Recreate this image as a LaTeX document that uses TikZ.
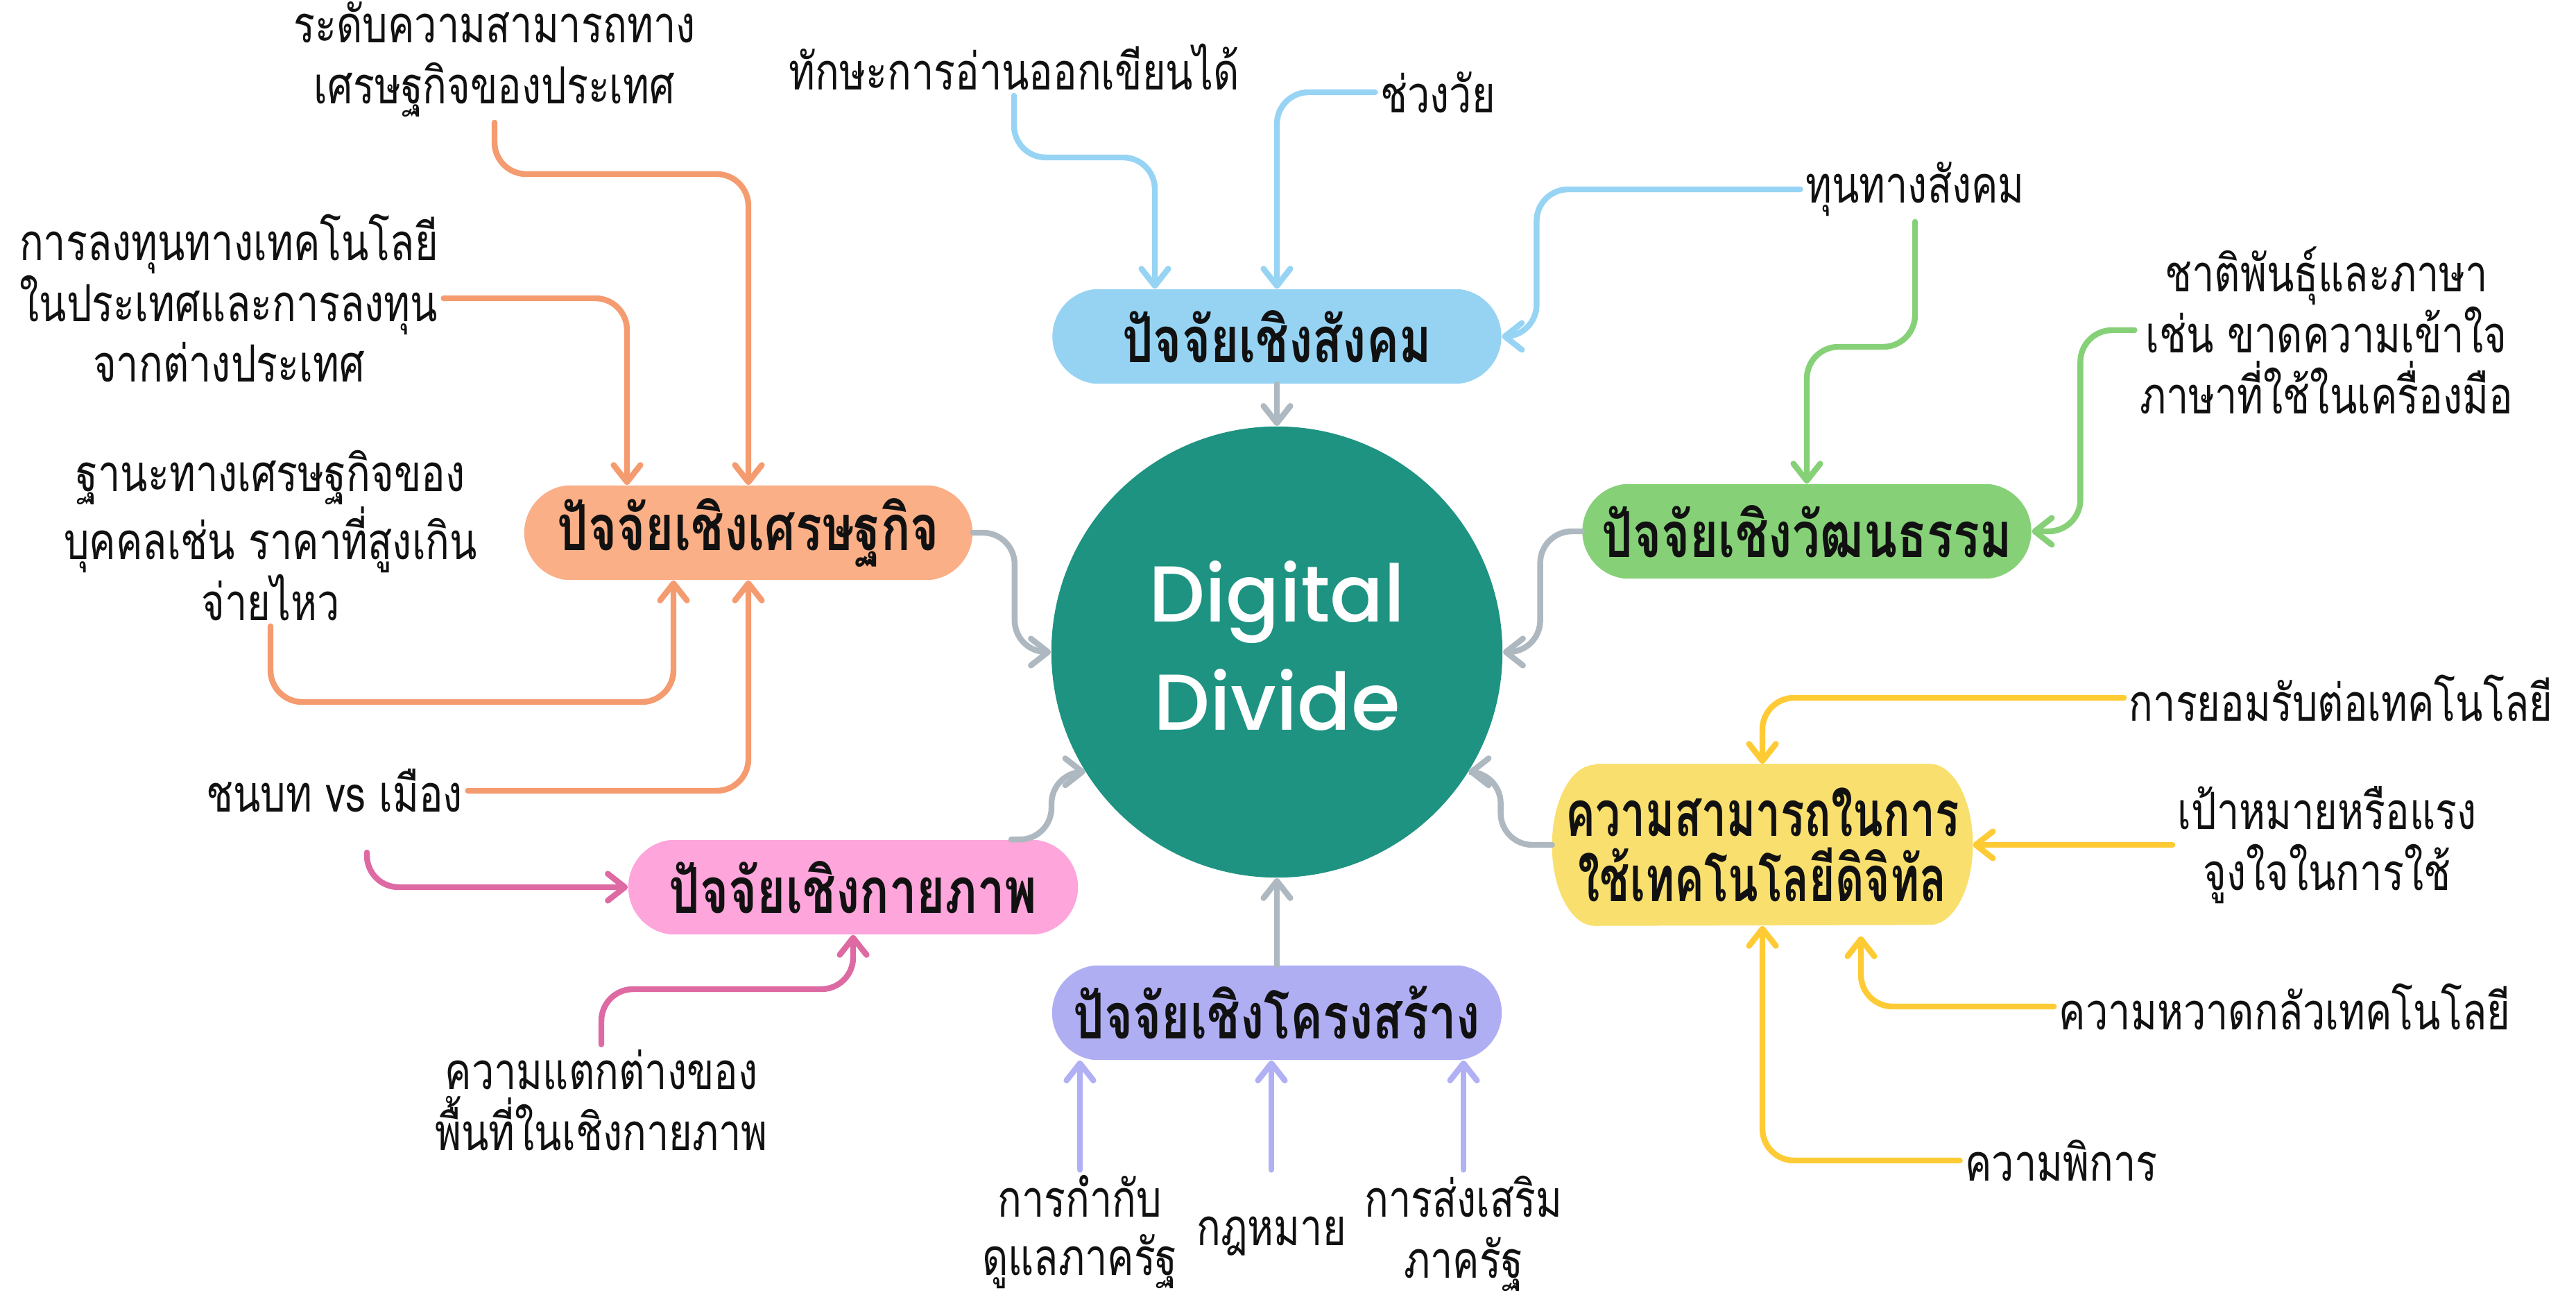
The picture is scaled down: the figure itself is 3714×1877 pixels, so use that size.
\documentclass[tikz,border=0pt]{standalone}
\usepackage{fontspec}
\usetikzlibrary{arrows.meta,shapes.misc,calc,backgrounds}
\newfontfamily\thai[Script=Thai,FakeStretch=0.78]{Loma}
\newfontfamily\thaib[Script=Thai,FakeStretch=0.77]{Loma}
\newfontfamily\thaiy[Script=Thai,FakeStretch=0.70]{Loma}
\newfontfamily\latf{Poppins Medium}
\definecolor{orln}{HTML}{F59B70}
\definecolor{orfill}{HTML}{FAAF87}
\definecolor{blfill}{HTML}{96D3F3}
\definecolor{blln}{HTML}{97D4F4}
\definecolor{grfill}{HTML}{86D178}
\definecolor{grln}{HTML}{86D178}
\definecolor{pkfill}{HTML}{FEA5DB}
\definecolor{pkln}{HTML}{DE6AA3}
\definecolor{pufill}{HTML}{B0AEF3}
\definecolor{puln}{HTML}{B2B0F5}
\definecolor{yefill}{HTML}{F9DF6E}
\definecolor{yeln}{HTML}{FECB34}
\definecolor{gyln}{HTML}{AEB8C0}
\definecolor{ddteal}{HTML}{1E9382}
\definecolor{txt}{HTML}{111111}
\begin{document}
\begin{tikzpicture}[x=0.01cm,y=-0.01cm,
  lab/.style={font=\thai\fontsize{21}{25}\selectfont, align=center, inner sep=2pt, text=txt},
  box/.style={rounded rectangle, rounded rectangle arc length=166, minimum height=1.36cm,
    font=\thaib\bfseries\fontsize{26}{26.7}\selectfont, text=txt, inner sep=0pt, align=center},
  con/.style={line width=2.4pt, rounded corners=13pt, line cap=round,
    -{Straight Barb[length=7pt,width=11pt,line cap=round,round]}},
  ddtext/.style={font=\latf\fontsize{32.5}{40}\selectfont, text=white, anchor=base}]
\useasboundingbox (0,0) rectangle (3714,1877);
% central circle
\node[circle, fill=ddteal, minimum size=6.5cm, inner sep=0pt] (dd) at (1841,940) {};
\node[ddtext] (dg1) at (1841,897) {Digital};
\node[ddtext] (dg2) at (1841,1053) {Divide};
% factor boxes
\node[box, fill=blfill, minimum width=6.47cm] (soc) at (1841,485) {ปัจจัยเชิงสังคม};
\node[box, fill=orfill, minimum width=6.46cm] (eco) at (1079,768) {ปัจจัยเชิงเศรษฐกิจ};
\node[box, fill=grfill, minimum width=6.47cm] (cul) at (2605,766) {ปัจจัยเชิงวัฒนธรรม};
\node[box, fill=pkfill, minimum width=6.48cm] (phy) at (1230,1279) {ปัจจัยเชิงกายภาพ};
\node[box, fill=pufill, minimum width=6.48cm] (str) at (1841,1460) {ปัจจัยเชิงโครงสร้าง};
\node[rectangle, minimum width=6.05cm, minimum height=2.32cm, inner sep=0pt, align=center,
  text=txt, font=\thaiy\bfseries\fontsize{26}{26.7}\selectfont] (abi) at (2541,1218) {ความสามารถในการ\\ใช้เทคโนโลยีดิจิทัล};
\begin{scope}[on background layer]
\fill[yefill] ($(abi.north west)+(62,0)$) -- ($(abi.north east)+(-62,0)$)
  arc[start angle=90,end angle=0,x radius=0.62cm,y radius=1.16cm]
  arc[start angle=0,end angle=-90,x radius=0.62cm,y radius=1.16cm]
  -- ($(abi.south west)+(62,0)$)
  arc[start angle=-90,end angle=-180,x radius=0.62cm,y radius=1.16cm]
  arc[start angle=180,end angle=90,x radius=0.62cm,y radius=1.16cm] -- cycle;
\end{scope}
% labels
\node[lab] (e1) at (713,86) {ระดับความสามารถทาง\\เศรษฐกิจของประเทศ};
\node[lab] (e2) at (330,430) {การลงทุนทางเทคโนโลยี\\ในประเทศและการลงทุน\\จากต่างประเทศ};
\node[lab] (e3) at (390,772) {ฐานะทางเศรษฐกิจของ\\บุคคลเช่น ราคาที่สูงเกิน\\จ่ายไหว};
\node[lab] (e4) at (482,1140) {ชนบท vs เมือง};
\node[lab] (p1) at (867,1586) {ความแตกต่างของ\\พื้นที่ในเชิงกายภาพ};
\node[lab] (s1) at (1462,97) {ทักษะการอ่านออกเขียนได้};
\node[lab] (s2) at (2073,133) {ช่วงวัย};
\node[lab] (s3) at (2761,273) {ทุนทางสังคม};
\node[lab] (c1) at (3354,476) {ชาติพันธุ์และภาษา\\เช่น ขาดความเข้าใจ\\ภาษาที่ใช้ในเครื่องมือ};
\node[lab, font=\thai\fontsize{21}{24}\selectfont] (st1) at (1557,1776) {การกำกับ\\ดูแลภาครัฐ};
\node[lab] (st2) at (1833,1782) {กฎหมาย};
\node[lab] (st3) at (2110,1778) {การส่งเสริม\\ภาครัฐ};
\node[lab] (y1) at (3375,1006) {การยอมรับต่อเทคโนโลยี};
\node[lab] (y2) at (3355,1218) {เป้าหมายหรือแรง\\จูงใจในการใช้};
\node[lab] (y3) at (3294,1451) {ความหวาดกลัวเทคโนโลยี};
\node[lab] (y4) at (2972,1673) {ความพิการ};
\coordinate (pstart) at (529,1229);
% economic
\draw[con,orln] (e1.south) |- (eco.north |- 0,251) -- (eco.north);
\draw[con,orln] (e2.east) -| ($(eco.north)+(-175,0)$);
\draw[con,orln] (e3.south) -- (e3.south |- 0,1012) -| ($(eco.south)+(-108,0)$);
\draw[con,orln] (e4.east) -| (eco.south);
% physical
\draw[con,pkln] (pstart) |- (phy.west);
\draw[con,pkln] (p1.north) -- (p1.north |- 0,1426) -| (phy.south);
% social
\draw[con,blln] (s1.south) -- (s1.south |- 0,227) -| ($(soc.north)+(-176,0)$);
\draw[con,blln] (s2.west) -| (soc.north);
\draw[con,blln] (s3.west) -| ($(soc.east)+(50,0)$) -- (soc.east);
% cultural
\draw[con,grln] (s3.south) -- (s3.south |- 0,500) -| (cul.north);
\draw[con,grln] (c1.west) -| ($(cul.east)+(70,0)$) -- (cul.east);
% structural
\draw[con,puln] (st1.north) -- (st1.north |- str.south);
\draw[con,puln] (st2.north |- st1.north) -- (st2.north |- str.south);
\draw[con,puln] (st3.north |- st1.north) -- (st3.north |- str.south);
% ability
\draw[con,yeln] (y1.west) -| (abi.north);
\draw[con,yeln] (y2.west) -- (abi.east);
\draw[con,yeln] (y3.west) -| ($(abi.south)+(142,15)$);
\draw[con,yeln] (y4.west) -| (abi.south);
% gray to centre
\draw[con,gyln] (soc.south) -- (dd.north);
\draw[con,gyln] (str.north) -- (dd.south);
\draw[con,gyln] (eco.east) -- ++(60,0) |- (dd.west);
\draw[con,gyln] (cul.west) -- ++(-60,0) |- (dd.east);
\draw[con,gyln] ($(phy.north)+(228,0)$) -- ++(58,0) |- (dd.212);
\draw[con,gyln] (abi.west) -- ++(-74,0) |- (dd.-32);
\end{tikzpicture}
\end{document}
